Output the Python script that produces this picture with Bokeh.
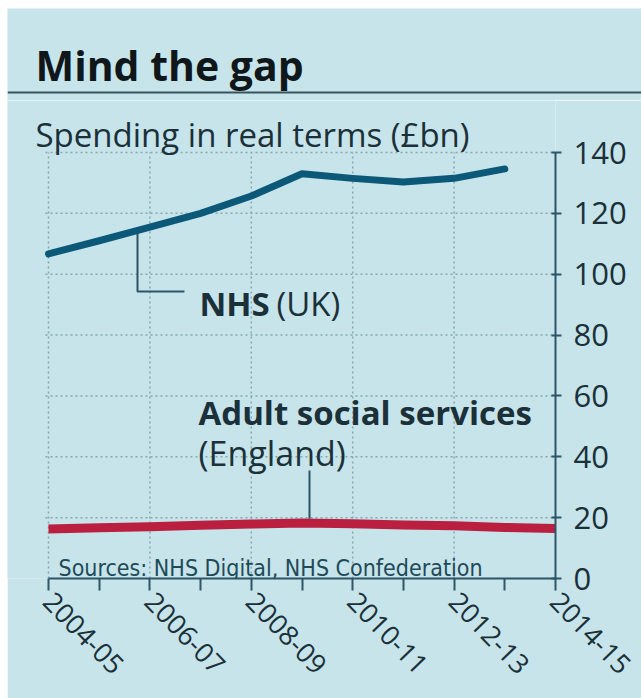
import numpy as np
from bokeh.plotting import figure
from bokeh.layouts import column
from bokeh.models import Range1d, FixedTicker, Label, Span
from bokeh.embed import file_html
from bokeh.resources import INLINE

# ---- data ----
years = ["2004-05", "2005-06", "2006-07", "2007-08", "2008-09", "2009-10",
         "2010-11", "2011-12", "2012-13", "2013-14", "2014-15"]
nhs = [106.7, 111.0, 115.5, 120.0, 125.7, 133.0, 131.5, 130.3, 131.5, 134.6]
social = [16.3, 16.7, 17.0, 17.5, 17.9, 18.2, 18.0, 17.6, 17.3, 16.8, 16.4]
y_ticks = [0, 20, 40, 60, 80, 100, 120, 140]
labelled_years = ["2004-05", "2006-07", "2008-09", "2010-11", "2012-13", "2014-15"]

BG = "#c6e4ea"
DARK = "#1b3038"
AXIS = "#2c5566"
NHS_C = "#0b5878"
RED_C = "#bb1f3f"
GRID = "#86a7b0"

# page geometry (pixels)
PAGE_W, PAGE_H = 641, 698
ML, MT = 7, 8                 # white page margins
HEAD_H = 92                   # header strip height
X0, X1 = 48, 555              # page x of first / last year
Y0, Y140 = 578, 152           # page y of value 0 / 140
CHART_TOP = MT + HEAD_H       # page y where the chart figure starts

ppx = (X1 - X0) / (len(years) - 1)
ppy = (Y0 - Y140) / 140.0

def dx(px):
    return (px - X0) / ppx

def dy(py):
    return (Y0 - py) / ppy

W = PAGE_W - ML

# ---------------- header ----------------
head = figure(width=W, height=HEAD_H, output_backend="svg", toolbar_location=None,
              x_range=Range1d(0, W), y_range=Range1d(0, HEAD_H),
              min_border=0, x_axis_type=None, y_axis_type=None)
head.background_fill_color = BG
head.border_fill_color = BG
head.outline_line_color = None
head.grid.visible = False
head.add_layout(Label(x=35 - ML, y=CHART_TOP - 64, text="Mind the gap",
                      text_font="Open Sans", text_font_style="bold",
                      text_font_size="41px", text_color="#0f171a",
                      text_baseline="alphabetic", text_align="left"))
head.add_layout(Span(location=CHART_TOP - 92, dimension="width",
                     line_color="#37535d", line_width=2))

# ---------------- chart ----------------
p = figure(width=W, height=PAGE_H - CHART_TOP, output_backend="svg", toolbar_location=None,
           x_range=Range1d(dx(ML), len(years) - 1), y_range=Range1d(0, dy(CHART_TOP)),
           x_axis_location="below", y_axis_location="right",
           min_border_left=0, min_border_top=0,
           min_border_right=PAGE_W - X1, min_border_bottom=PAGE_H - Y0)
p.background_fill_color = BG
p.border_fill_color = BG
p.outline_line_color = None
p.grid.visible = False

for fig in (head, p):
    if "frame_align" in fig.properties():
        fig.frame_align = False

xi = list(range(len(years)))

# dotted grid lines
gy = y_ticks[1:]
p.segment(x0=[dx(45)] * len(gy), x1=[len(years) - 1] * len(gy), y0=gy, y1=gy,
          line_color=GRID, line_dash="2 3", line_width=1.5)
gx = [years.index(y) for y in labelled_years[:-1]]
p.segment(x0=gx, x1=gx, y0=[0] * len(gx), y1=[y_ticks[-1]] * len(gx),
          line_color=GRID, line_dash="2 3", line_width=1.5)

# x axis
xa = p.xaxis[0]
xa.bounds = (0, len(years) - 1)
xa.ticker = FixedTicker(ticks=xi)
xa.major_label_overrides = {i: (y if y in labelled_years else "") for i, y in enumerate(years)}
xa.major_label_orientation = -0.8
xa.major_label_text_font = "Open Sans"
xa.major_label_text_font_size = "27px"
xa.major_label_text_color = DARK
xa.major_label_standoff = 6
xa.axis_line_color = AXIS
xa.axis_line_width = 2
xa.major_tick_line_color = AXIS
xa.major_tick_line_width = 2
xa.major_tick_out = 12
xa.major_tick_in = 0
xa.minor_tick_line_color = None

# y axis (right)
ya = p.yaxis[0]
ya.bounds = (0, 140)
ya.ticker = FixedTicker(ticks=y_ticks)
ya.major_label_text_font = "Open Sans"
ya.major_label_text_font_size = "31px"
ya.major_label_text_color = DARK
ya.major_label_standoff = 12
ya.axis_line_color = AXIS
ya.axis_line_width = 2
ya.major_tick_line_color = AXIS
ya.major_tick_line_width = 2
ya.major_tick_out = 6
ya.major_tick_in = 4
ya.minor_tick_line_color = None

# leader lines
lx = dx(137)
ly = float(np.interp(lx, xi[:len(nhs)], nhs))
p.line([lx, lx, dx(184)], [ly, dy(291), dy(291)], line_color=AXIS, line_width=2)
sx = dx(309)
sy = float(np.interp(sx, xi, social))
p.line([sx, sx], [sy + 1.5, dy(470)], line_color=AXIS, line_width=2)

# series
p.line(xi[:len(nhs)], nhs, line_color=NHS_C, line_width=7, line_cap="round", line_join="round")
p.line(xi, social, line_color=RED_C, line_width=9, line_join="round")

def lab(px, py, text, size, bold=False, font="Open Sans", color=DARK):
    p.add_layout(Label(x=dx(px), y=dy(py), text=text, text_font=font, text_font_size=size,
                       text_font_style="bold" if bold else "normal",
                       text_color=color, text_baseline="alphabetic", text_align="left"))

lab(35, 134, "Spending in real terms (£bn)", "33px")
lab(199, 303, "NHS", "33px", bold=True)
lab(276, 303, "(UK)", "33px")
lab(198, 412, "Adult social services", "33px", bold=True)
lab(198, 452, "(England)", "34px")
lab(58, 567, "Sources: NHS Digital, NHS Confederation", "23px",
    font="DejaVu Sans Condensed", color="#1f4a58")

layout = column(head, p, spacing=0, margin=(MT, 0, 0, ML))
open("out.html", "w").write(file_html(layout, INLINE))
